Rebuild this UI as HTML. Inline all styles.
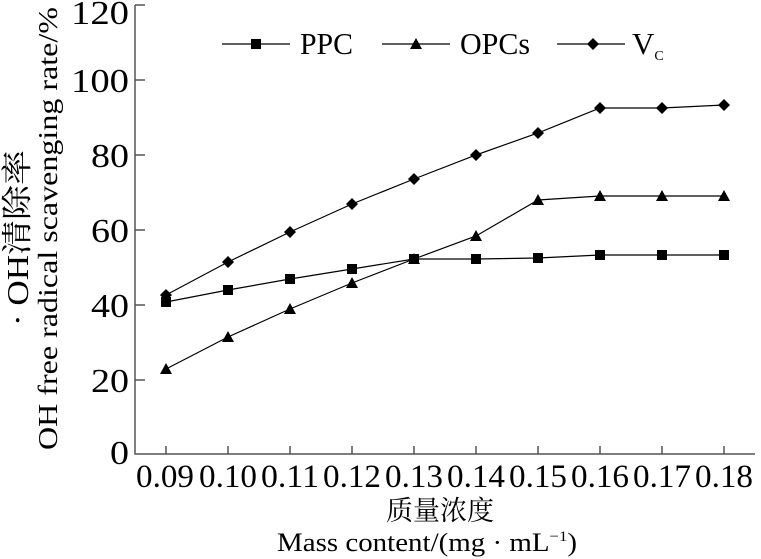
<!DOCTYPE html><html><head><style>body{margin:0;background:#fff}svg{display:block}text{font-family:"Liberation Serif","Noto Serif CJK SC",serif;fill:#000}</style></head><body>
<svg width="761" height="559" viewBox="0 0 761 559">
<g stroke="#555" stroke-width="1.5" fill="none">
<path d="M135,5 V454 H755"/>
<path d="M135,5h10M135,80h10M135,155h10M135,230h10M135,305h10M135,380h10"/>
<path d="M166,454v-8M228,454v-8M290,454v-8M352,454v-8M414,454v-8M476,454v-8M538,454v-8M600,454v-8M662,454v-8M724,454v-8"/>
</g>
<g font-size="34" text-anchor="end">
<text x="129" y="24" textLength="58" lengthAdjust="spacingAndGlyphs">120</text><text x="129" y="92" textLength="58" lengthAdjust="spacingAndGlyphs">100</text><text x="129" y="167" textLength="38" lengthAdjust="spacingAndGlyphs">80</text><text x="129" y="242" textLength="38" lengthAdjust="spacingAndGlyphs">60</text><text x="129" y="317" textLength="38" lengthAdjust="spacingAndGlyphs">40</text><text x="129" y="392" textLength="38" lengthAdjust="spacingAndGlyphs">20</text><text x="129" y="464" textLength="19" lengthAdjust="spacingAndGlyphs">0</text>
</g>
<g font-size="33">
<text x="136" y="487" textLength="58" lengthAdjust="spacingAndGlyphs">0.09</text><text x="199" y="487" textLength="58" lengthAdjust="spacingAndGlyphs">0.10</text><text x="261" y="487" textLength="58" lengthAdjust="spacingAndGlyphs">0.11</text><text x="323" y="487" textLength="58" lengthAdjust="spacingAndGlyphs">0.12</text><text x="385" y="487" textLength="58" lengthAdjust="spacingAndGlyphs">0.13</text><text x="447" y="487" textLength="58" lengthAdjust="spacingAndGlyphs">0.14</text><text x="509" y="487" textLength="58" lengthAdjust="spacingAndGlyphs">0.15</text><text x="571" y="487" textLength="58" lengthAdjust="spacingAndGlyphs">0.16</text><text x="633" y="487" textLength="58" lengthAdjust="spacingAndGlyphs">0.17</text><text x="695" y="487" textLength="58" lengthAdjust="spacingAndGlyphs">0.18</text>
<text x="386" y="520" font-size="27">质量浓度</text>
<text x="277" y="551" font-size="26" textLength="300" lengthAdjust="spacingAndGlyphs">Mass content/(mg · mL<tspan font-size="15" dy="-10">−1</tspan><tspan dy="10">)</tspan></text>
</g>
<text transform="translate(28,326) rotate(-90)" font-size="31" textLength="176" lengthAdjust="spacingAndGlyphs">· OH清除率</text>
<text transform="translate(57,450) rotate(-90)" font-size="27" textLength="443" lengthAdjust="spacingAndGlyphs">OH free radical scavenging rate/%</text>
<g stroke="#000" stroke-width="1.2" fill="none">
<polyline points="166,302 228,290 290,279 352,269 414,259 476,259 538,258 600,255 662,255 724,255"/>
<polyline points="166,369 228,337 290,309 352,283 414,259 476,236 538,200 600,196 662,196 724,196"/>
<polyline points="166,295 228,262 290,232 352,204 414,179 476,155 538,133 600,108 662,108 724,105"/>
<path d="M222,44H290M382,44H450M557,44H625"/>
</g>
<g fill="#000">
<rect x="161" y="297" width="10" height="10"/><rect x="223" y="285" width="10" height="10"/><rect x="285" y="274" width="10" height="10"/><rect x="347" y="264" width="10" height="10"/><rect x="409" y="254" width="10" height="10"/><rect x="471" y="254" width="10" height="10"/><rect x="533" y="253" width="10" height="10"/><rect x="595" y="250" width="10" height="10"/><rect x="657" y="250" width="10" height="10"/><rect x="719" y="250" width="10" height="10"/><rect x="251" y="39" width="10" height="10"/>
<path d="M166,363l6,11h-12zM228,331l6,11h-12zM290,303l6,11h-12zM352,277l6,11h-12zM414,253l6,11h-12zM476,230l6,11h-12zM538,194l6,11h-12zM600,190l6,11h-12zM662,190l6,11h-12zM724,190l6,11h-12zM416,38l6,11h-12z"/>
<path d="M166,289l6,6l-6,6l-6,-6zM228,256l6,6l-6,6l-6,-6zM290,226l6,6l-6,6l-6,-6zM352,198l6,6l-6,6l-6,-6zM414,173l6,6l-6,6l-6,-6zM476,149l6,6l-6,6l-6,-6zM538,127l6,6l-6,6l-6,-6zM600,102l6,6l-6,6l-6,-6zM662,102l6,6l-6,6l-6,-6zM724,99l6,6l-6,6l-6,-6zM593,38l6,6l-6,6l-6,-6z"/>
</g>
<g font-size="31">
<text x="300" y="54" textLength="53" lengthAdjust="spacingAndGlyphs">PPC</text><text x="460" y="54" textLength="70" lengthAdjust="spacingAndGlyphs">OPCs</text><text x="632" y="54">V<tspan font-size="14" dy="6">C</tspan></text>
</g>
</svg></body></html>
